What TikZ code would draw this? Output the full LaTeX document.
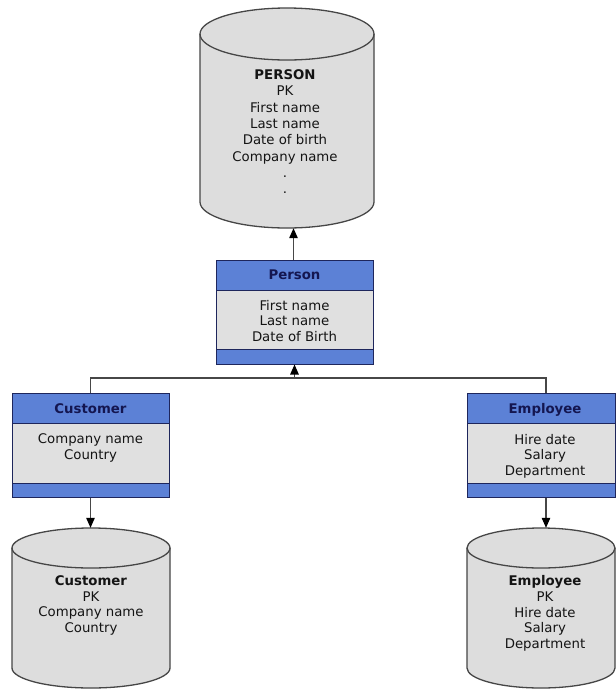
\documentclass[tikz,border=0pt]{standalone}
\usepackage{fontspec}
\setmainfont{DejaVu Sans}
\usetikzlibrary{arrows.meta,fit}
\definecolor{hdr}{RGB}{92,129,214}
\definecolor{boxbody}{RGB}{224,224,224}
\definecolor{navy}{RGB}{30,38,92}
\definecolor{cylfill}{RGB}{221,221,221}
\definecolor{cylline}{RGB}{70,70,70}
\definecolor{titlecol}{RGB}{20,22,80}
\tikzset{
  txt/.style={font=\fontsize{13.3}{15.7}\selectfont, align=center, inner sep=0pt, text=black!92},
  hdtxt/.style={font=\fontsize{13.3}{15.7}\selectfont\bfseries, inner sep=0pt, text=titlecol},
  conn/.style={draw=black!72, line width=1.1pt},
  arr/.style={conn, -{Triangle[length=10pt,width=8.5pt,color=black]}},
  cylshape/.style={fill=cylfill},
  cylborder/.style={draw=cylline, line width=1.3pt},
  umlframe/.style={draw=navy, line width=1pt, inner sep=0pt},
}
% name, L, R, top, header bottom, body bottom, bottom
\newcommand\umlcls[7]{%
  \fill[boxbody] (#2,#4) rectangle (#3,#7);
  \fill[hdr] (#2,#4) rectangle (#3,#5);
  \fill[hdr] (#2,#6) rectangle (#3,#7);
  \draw[navy, line width=1pt] (#2,#5) -- (#3,#5) (#2,#6) -- (#3,#6);
  \node[umlframe, fit={(#2,#4) (#3,#7)}] (#1) {};
}
% name, cx, rx, ytop, ybot, ry
\newcommand\dbcyl[6]{%
  \fill[cylshape] ({#2-#3},#4) -- ({#2-#3},#5)
     arc[start angle=180, end angle=360, x radius=#3pt, y radius=#6pt]
     -- ({#2+#3},#4)
     arc[start angle=0, end angle=180, x radius=#3pt, y radius=#6pt] -- cycle;
  \draw[cylborder] ({#2-#3},#4) -- ({#2-#3},#5)
     arc[start angle=180, end angle=360, x radius=#3pt, y radius=#6pt]
     -- ({#2+#3},#4);
  \draw[cylborder] (#2,#4) ellipse[x radius=#3pt, y radius=#6pt];
  \node[inner sep=0pt, fit={({#2-#3},{#4-#6}) ({#2+#3},{#5+#6})}] (#1) {};
}
\begin{document}
\begin{tikzpicture}[x=1pt, y=-1pt]
  \useasboundingbox (0,0) rectangle (616,689);
  \fill[white] (0,0) rectangle (616,689);

  % database cylinders
  \dbcyl{pdb}{287}{87}{34}{202}{26}
  \dbcyl{cdb}{91}{79}{548}{668}{20}
  \dbcyl{edb}{541}{74}{548}{668}{20}

  \node[txt, font=\fontsize{13.3}{16.3}\selectfont, anchor=north] (pdbtxt) at (285,69.5)
    {\textbf{PERSON}\\PK\\First name\\Last name\\Date of birth\\Company name\\.\\.};
  \node[txt, anchor=north] (cdbtxt) at (91,575.5)
    {\textbf{Customer}\\PK\\Company name\\Country};
  \node[txt, anchor=north] (edbtxt) at (545,575.5)
    {\textbf{Employee}\\PK\\Hire date\\Salary\\Department};

  % classes
  \umlcls{person}{216}{373}{260}{290}{349}{364}
  \umlcls{customer}{12}{169}{393}{423}{483}{497}
  \umlcls{employee}{467}{615}{393}{423}{483}{497}

  \node[hdtxt, anchor=base] (persontitle) at (294.5,279.8) {Person};
  \node[hdtxt, anchor=base] (customertitle) at (90.5,413.3) {Customer};
  \node[hdtxt, anchor=base] (employeetitle) at (545,413.3) {Employee};

  \node[txt, anchor=north] (personbody) at (294.5,299.7) {First name\\Last name\\Date of Birth};
  \node[txt, anchor=north] (customerbody) at (90.5,433.7) {Company name\\Country};
  \node[txt, anchor=north] (employeebody) at (545,433.7) {Hire date\\Salary\\Department};

  % connectors
  \draw[arr] ([xshift=-1pt]person.north) -- ([xshift=-1pt]person.north |- pdb.south);
  \coordinate (bar) at (0,378);
  \coordinate (jn) at (person.south |- bar);
  \draw[conn] (customer.north) |- ([xshift=5pt]employee.north |- bar) -- ([xshift=5pt]employee.north);
  \draw[arr] (jn) -- (person.south);
  \draw[arr] (customer.south) -- (customer.south |- cdb.north);
  \draw[arr] ([xshift=5pt]employee.south) -- ([xshift=5pt]employee.south |- edb.north);
\end{tikzpicture}
\end{document}
